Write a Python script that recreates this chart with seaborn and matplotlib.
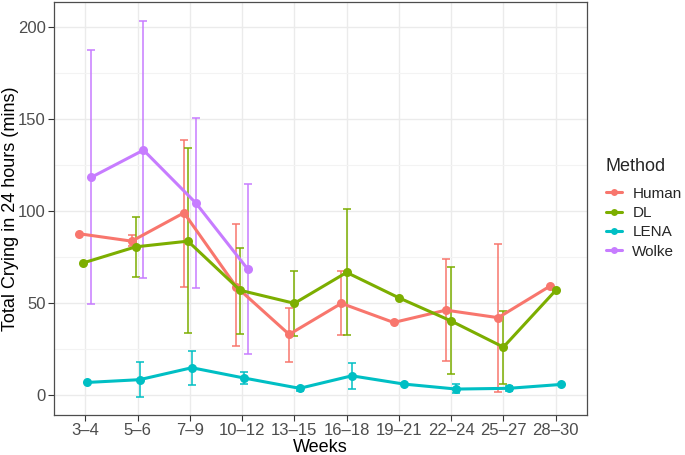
import numpy as np
import pandas as pd
import matplotlib
matplotlib.use("Agg")
import matplotlib.pyplot as plt
import seaborn as sns
from matplotlib.ticker import MultipleLocator

weeks = ["3–4", "5–6", "7–9", "10–12", "13–15", "16–18", "19–21", "22–24", "25–27", "28–30"]
methods = ["Human", "DL", "LENA", "Wolke"]
colors = ["#F8766D", "#7CAE00", "#00BFC4", "#C77CFF"]

nan = np.nan
human_mean = [87.5, 83.5, 98.9, 58.7, 32.8, 49.7, 39.3, 46.0, 41.9, 59.2]
human_lo = [nan, 81.0, 58.7, 26.5, 17.9, 32.4, nan, 18.5, 1.6, nan]
human_hi = [nan, 87.0, 138.4, 93.0, 47.3, 67.2, nan, 73.6, 81.9, nan]

dl_mean = [71.7, 80.4, 83.5, 56.8, 49.7, 66.5, 52.7, 40.1, 25.9, 56.7]
dl_lo = [nan, 64.1, 33.4, 32.8, 32.1, 32.4, nan, 11.1, 5.6, nan]
dl_hi = [nan, 96.4, 133.9, 79.9, 67.4, 100.8, nan, 69.2, 45.5, nan]

lena_mean = [6.7, 8.2, 14.7, 9.1, 3.5, 10.3, 5.8, 3.1, 3.5, 5.6]
lena_lo = [nan, -1.3, 5.4, 6.0, 2.2, 3.1, nan, 1.1, 2.0, nan]
lena_hi = [nan, 17.9, 23.7, 12.2, 4.4, 17.2, nan, 5.6, 4.7, nan]

wolke_mean = [118.2, 133.0, 104.3, 68.1]
wolke_lo = [49.1, 63.3, 57.8, 22.0]
wolke_hi = [187.3, 203.3, 150.2, 114.3]

rows = []
series = {
    "Human": (human_mean, human_lo, human_hi),
    "DL": (dl_mean, dl_lo, dl_hi),
    "LENA": (lena_mean, lena_lo, lena_hi),
    "Wolke": (wolke_mean, wolke_lo, wolke_hi),
}
for m in methods:
    mean, lo, hi = series[m]
    for i, v in enumerate(mean):
        rows.append(dict(Method=m, week=weeks[i], idx=i, value=v, lo=lo[i], hi=hi[i]))
df = pd.DataFrame(rows)

# ggplot-style position_dodge(width=0.3): offsets depend on groups present at each x
dodge_w = 0.3
df["order"] = df["Method"].map({m: k for k, m in enumerate(methods)})
df = df.sort_values(["idx", "order"]).reset_index(drop=True)
df["n"] = df.groupby("idx")["Method"].transform("count")
df["rank"] = df.groupby("idx").cumcount()
df["xpos"] = df["idx"] + (df["rank"] - (df["n"] - 1) / 2) * dodge_w / df["n"]
df = df.sort_values(["order", "idx"]).reset_index(drop=True)

sns.set_theme(style="white")
plt.rcParams["font.family"] = ["Liberation Sans", "DejaVu Sans"]

fig = plt.figure(figsize=(6.85, 4.55), dpi=100)
ax = fig.add_axes([54 / 685, 1 - 415 / 455, (587 - 54) / 685, (415 - 2) / 455])

palette = dict(zip(methods, colors))
for m in methods:
    sub = df[df["Method"] == m]
    ax.errorbar(sub["xpos"], sub["value"],
                yerr=[sub["value"] - sub["lo"], sub["hi"] - sub["value"]],
                fmt="none", ecolor=palette[m], elinewidth=1.1, capsize=3.2,
                capthick=1.1, zorder=2)

sns.lineplot(data=df, x="xpos", y="value", hue="Method", hue_order=methods,
             palette=palette, marker="o", markersize=6.5, markeredgewidth=0,
             linewidth=2.2, ax=ax, estimator=None, sort=True, zorder=3)

ax.set_xlim(-0.6, len(weeks) - 1 + 0.6)
ax.set_ylim(-11.0, 213.5)
ax.set_xticks(range(len(weeks)))
ax.set_xticklabels(weeks)
ax.yaxis.set_major_locator(MultipleLocator(50))
ax.yaxis.set_minor_locator(MultipleLocator(25))

ax.grid(True, which="major", color="#EBEBEB", linewidth=1.0)
ax.grid(True, which="minor", axis="y", color="#F3F3F3", linewidth=0.8)
ax.set_axisbelow(True)
for s in ax.spines.values():
    s.set_color("#4D4D4D")
    s.set_linewidth(0.9)

ax.tick_params(axis="both", which="major", length=4, width=0.8, color="#333333",
               labelsize=12, labelcolor="#4D4D4D", direction="out", bottom=True, left=True, pad=2)
ax.tick_params(axis="y", which="minor", length=0)

ax.set_xlabel("Weeks", fontsize=13, color="black")
ax.xaxis.label.set_va("center")
ax.xaxis.set_label_coords(0.5, -(447 - 415) / 413)
ax.set_ylabel("Total Crying in 24 hours (mins)", fontsize=13, color="black")
ax.yaxis.label.set_va("center")
ax.yaxis.set_label_coords(-(54 - 11) / 533, 0.5)

leg = ax.legend(title="Method", loc="center left", bbox_to_anchor=(1.035, 0.50),
                frameon=False, fontsize=11, title_fontsize=13, handlelength=1.1,
                labelspacing=0.35, handletextpad=0.65, borderaxespad=0, borderpad=0)
leg._legend_box.align = "left"
leg._legend_box.sep = 8
for h in leg.legend_handles:
    h.set_linewidth(2.2)
    h.set_markersize(5)

fig.savefig("out.png", dpi=100)
